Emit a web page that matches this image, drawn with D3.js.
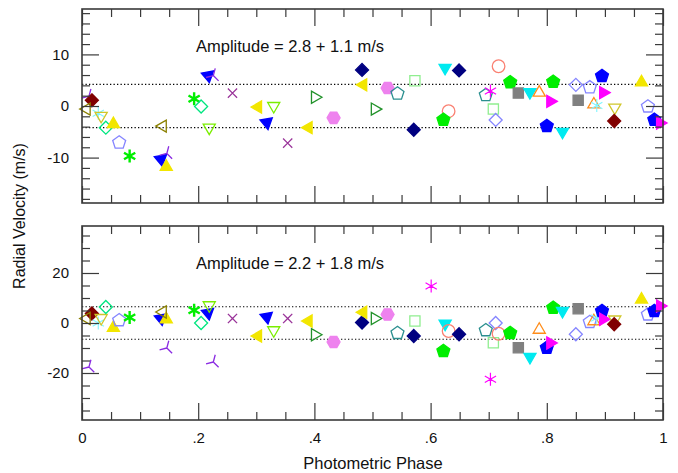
<!DOCTYPE html>
<html>
<head>
<meta charset="utf-8">
<script src="https://cdn.jsdelivr.net/npm/d3@7"></script>
<style>
  html, body { margin: 0; padding: 0; background: #fff; }
  svg { display: block; font-family: "Liberation Sans", Arial, Helvetica, sans-serif; }
</style>
</head>
<body>
<svg id="chart" width="678" height="473"></svg>
<script>
// Orbital phase of each observation
const phase = [
  0.012, 0.017, 0.008, 0.028, 0.033, 0.041, 0.054, 0.064, 0.082, 0.136,
  0.146, 0.145, 0.139, 0.193, 0.205, 0.217, 0.226, 0.219, 0.259, 0.303,
  0.318, 0.330, 0.354, 0.390, 0.401, 0.433, 0.482, 0.484, 0.504, 0.526,
  0.543, 0.571, 0.573, 0.601, 0.625, 0.631, 0.622, 0.649, 0.695, 0.703,
  0.708, 0.712, 0.717, 0.737, 0.751, 0.771, 0.787, 0.800, 0.806, 0.811,
  0.827, 0.850, 0.854, 0.874, 0.881, 0.886, 0.895, 0.897, 0.917, 0.916,
  0.963, 0.974, 0.985, 0.995
];

// Radial velocities (m/s), upper panel
const rvUpper = [
   1.9,  1.1, -0.6, -1.4, -1.9, -4.2, -3.5, -7.1, -9.7, -10.3,
  -9.2, -11.8, -3.9,  1.4, -0.1,  5.9,  5.9, -4.2,  2.5, -0.2,
  -3.2,  0.0, -7.2, -4.2,  1.7, -2.3,  7.0,  4.1, -0.6,  3.5,
   2.4, -4.6,  4.9, null,  7.4, -1.0, -2.7,  6.9,  2.1,  2.9,
  -0.6, -2.7,  7.7,  4.6,  2.5,  2.7,  2.6, -3.9,  0.9,  4.7,
  -5.0,  4.1,  1.1,  3.6,  0.3,  0.1,  5.8,  2.6, -0.3, -2.9,
   4.6, -0.1, -2.7, -3.3
];

// Radial velocities (m/s), lower panel
const rvLower = [
 -17.6,  3.8,  1.8,  0.0,  2.0,  6.4, -1.9,  1.1,  2.2,  1.8,
 -10.0,  1.5,  4.4,  5.1,  0.0,  4.0, -15.6,  7.1,  1.8, -5.2,
   2.4, -2.9,  1.8,  0.8, -4.7, -7.6,  0.2,  4.3,  1.8,  3.4,
  -4.0, -5.2,  0.8, 14.8, -0.3, -3.2, -11.2, -4.5, -2.9, -22.5,
  -7.9,  0.0, -4.3, -4.0, -9.9, -13.6, -2.7, -9.9, -8.0,  6.1,
   4.8, -4.5,  5.7,  0.4,  0.7,  2.0,  4.8,  1.5,  1.4, -0.5,
   9.4,  3.4,  4.8,  6.8
];

// Data set (symbol key) of each observation
const setKey = [
  "A","B","C","D","E","F","G","H","I","J",
  "A","G","C","I","F","J","A","K","L","M",
  "J","K","L","M","N","O","P","M","N","O",
  "Q","P","R","S","T","U","V","P","Q","S",
  "R","W","U","V","X","T","Y","AA","Z","V",
  "T","W","X","H","Y","D","AA","Z","E","B",
  "G","H","AA","Z"
];

// Panel annotations and the +/- scatter levels
const panelTitles = ["Amplitude = 2.8 + 1.1 m/s", "Amplitude = 2.2 + 1.8 m/s"];
const scatterLevel = [4.2, 6.5];

// Tick values and labels
const phaseTicks = [0, 0.2, 0.4, 0.6, 0.8, 1];
const phaseTickLabels = ["0", ".2", ".4", ".6", ".8", "1"];
const upperTicks = [-10, 0, 10];
const upperTickLabels = ["-10", "0", "10"];
const lowerTicks = [-20, 0, 20];
const lowerTickLabels = ["-20", "0", "20"];

// Marker look for each data set
const markerStyle = {
  A:  { shape: "tri",      color: "#8a2be2", fill: false },
  B:  { shape: "diamond",  color: "#800000", fill: true  },
  C:  { shape: "ltri",     color: "#8b8000", fill: false },
  D:  { shape: "star",     color: "#7ff5ff", fill: false, w: 1.1 },
  E:  { shape: "dtri",     color: "#d0c62a", fill: false },
  F:  { shape: "diamond",  color: "#00e680", fill: false },
  G:  { shape: "utri",     color: "#f2e600", fill: true  },
  H:  { shape: "pent",     color: "#8585ff", fill: false },
  I:  { shape: "star",     color: "#00ee00", fill: false, w: 2.4 },
  J:  { shape: "btri",     color: "#0000ff", fill: true  },
  K:  { shape: "dtri",     color: "#7aee00", fill: false },
  L:  { shape: "cross",    color: "#993399", fill: false },
  M:  { shape: "ltri",     color: "#f2e600", fill: true  },
  N:  { shape: "rtri",     color: "#22922b", fill: false },
  O:  { shape: "hex",      color: "#ee82ee", fill: true  },
  P:  { shape: "diamond",  color: "#000080", fill: true  },
  Q:  { shape: "pent",     color: "#2b8f8f", fill: false },
  R:  { shape: "square",   color: "#90ee90", fill: false },
  S:  { shape: "star",     color: "#ff00ff", fill: false, w: 1.2 },
  T:  { shape: "dtri",     color: "#00eaf0", fill: true  },
  U:  { shape: "circle",   color: "#fa8072", fill: false },
  V:  { shape: "pent",     color: "#00ee00", fill: true  },
  W:  { shape: "diamond",  color: "#8585ff", fill: false },
  X:  { shape: "square",   color: "#808080", fill: true  },
  Y:  { shape: "utri",     color: "#ff8c1a", fill: false },
  Z:  { shape: "rtri",     color: "#ff00ff", fill: true  },
  AA: { shape: "pent",     color: "#0000ff", fill: true  }
};

const svg = d3.select("#chart");
const frameColor = "#3a3a3a";

const x = d3.scaleLinear().domain([0, 1]).range([82, 663]);
const panels = [
  { y: d3.scaleLinear().domain([-18.8, 18.8]).range([203, 9]),
    values: rvUpper, ticks: upperTicks, labels: upperTickLabels,
    minorStep: 2, title: panelTitles[0], level: scatterLevel[0], showX: false },
  { y: d3.scaleLinear().domain([-38.8, 38.8]).range([420, 226]),
    values: rvLower, ticks: lowerTicks, labels: lowerTickLabels,
    minorStep: 5, title: panelTitles[1], level: scatterLevel[1], showX: true }
];

function polygon(n, r, startDeg) {
  const pts = d3.range(n).map(i => {
    const a = (startDeg + i * 360 / n) * Math.PI / 180;
    return [r * Math.cos(a), r * Math.sin(a)];
  });
  return "M" + pts.map(p => p[0].toFixed(2) + "," + p[1].toFixed(2)).join("L") + "Z";
}
function spokes(angles, r) {
  return angles.map(d => {
    const a = d * Math.PI / 180;
    return "M0,0L" + (r * Math.cos(a)).toFixed(2) + "," + (r * Math.sin(a)).toFixed(2);
  }).join("");
}
function markerPath(shape) {
  switch (shape) {
    case "utri":    return polygon(3, 7, -90);
    case "dtri":    return polygon(3, 7, 90);
    case "ltri":    return polygon(3, 7, 180);
    case "rtri":    return polygon(3, 7, 0);
    case "btri":    return polygon(3, 7.2, 80);
    case "diamond": return polygon(4, 6.5, -90);
    case "square":  return polygon(4, 7.2, -45);
    case "pent":    return polygon(5, 6.8, -90);
    case "hex":     return polygon(6, 6.5, 0);
    case "circle":  return d3.arc()({ innerRadius: 0, outerRadius: 6.3, startAngle: 0, endAngle: 2 * Math.PI });
    case "star":    return spokes([-90, -30, 30, 90, 150, 210], 6.5);
    case "cross":   return spokes([45, 135, 225, 315], 6.5);
    case "tri":     return spokes([-75, 45, 165], 7.5);
  }
}

panels.forEach(p => {
  const g = svg.append("g");
  const [y0, y1] = p.y.range();

  // scatter reference lines
  [p.level, -p.level].forEach(v => {
    g.append("line")
      .attr("x1", x(0)).attr("x2", x(1))
      .attr("y1", p.y(v)).attr("y2", p.y(v))
      .attr("stroke", "#000").attr("stroke-width", 1.1)
      .attr("stroke-dasharray", "1.3,2.2");
  });

  // observations
  const idx = d3.range(phase.length).filter(i => p.values[i] !== null);
  g.selectAll("path.obs").data(idx).join("path")
    .attr("class", "obs")
    .attr("transform", i => `translate(${x(phase[i])},${p.y(p.values[i])})`)
    .attr("d", i => markerPath(markerStyle[setKey[i]].shape))
    .attr("fill", i => markerStyle[setKey[i]].fill ? markerStyle[setKey[i]].color : "none")
    .attr("stroke", i => markerStyle[setKey[i]].color)
    .attr("stroke-width", i => markerStyle[setKey[i]].w || 1.3)
    .attr("stroke-linejoin", "miter");

  // minor and major ticks on all four sides
  const minorY = d3.range(-40, 41, p.minorStep).filter(v => v > p.y.domain()[0] && v < p.y.domain()[1] && !p.ticks.includes(v));
  const minorX = d3.range(0, 1.0001, 0.05).map(v => +v.toFixed(2)).filter(v => !phaseTicks.some(t => Math.abs(t - v) < 1e-6));

  const axes = [
    d3.axisLeft(p.y).tickValues(p.ticks).tickFormat((d, i) => p.labels[i]).tickSize(-17).tickPadding(13),
    d3.axisLeft(p.y).tickValues(minorY).tickFormat("").tickSize(-8),
  ];
  axes.forEach(a => g.append("g").attr("transform", `translate(${x(0)},0)`).call(a));

  g.append("g").attr("transform", `translate(${x(1)},0)`)
    .call(d3.axisRight(p.y).tickValues(p.ticks).tickFormat("").tickSize(-17));
  g.append("g").attr("transform", `translate(${x(1)},0)`)
    .call(d3.axisRight(p.y).tickValues(minorY).tickFormat("").tickSize(-8));

  g.append("g").attr("transform", `translate(0,${y1})`)
    .call(d3.axisTop(x).tickValues(phaseTicks).tickFormat("").tickSize(-17));
  g.append("g").attr("transform", `translate(0,${y1})`)
    .call(d3.axisTop(x).tickValues(minorX).tickFormat("").tickSize(-8));

  g.append("g").attr("transform", `translate(0,${y0})`)
    .call(d3.axisBottom(x).tickValues(phaseTicks)
      .tickFormat((d, i) => p.showX ? phaseTickLabels[i] : "")
      .tickSize(-17).tickPadding(12));
  g.append("g").attr("transform", `translate(0,${y0})`)
    .call(d3.axisBottom(x).tickValues(minorX).tickFormat("").tickSize(-8));

  g.selectAll(".domain").remove();
  g.selectAll(".tick line").attr("stroke", frameColor).attr("stroke-width", 1.2);
  g.selectAll(".tick text").attr("fill", "#111").style("font-size", "15px")
    .style("font-family", "'Liberation Sans', Arial, Helvetica, sans-serif");

  // frame
  g.append("rect")
    .attr("x", x(0)).attr("y", y1)
    .attr("width", x(1) - x(0)).attr("height", y0 - y1)
    .attr("fill", "none").attr("stroke", frameColor).attr("stroke-width", 1.6);

  // amplitude annotation
  g.append("text")
    .attr("x", 196).attr("y", y1 + 43)
    .attr("fill", "#111").style("font-size", "16.5px")
    .text(p.title);
});

// axis titles
svg.append("text")
  .attr("x", 373).attr("y", 469)
  .attr("text-anchor", "middle").attr("fill", "#111")
  .style("font-size", "16.5px")
  .text("Photometric Phase");

svg.append("text")
  .attr("transform", "translate(25,216) rotate(-90)")
  .attr("text-anchor", "middle").attr("fill", "#111")
  .style("font-size", "16px")
  .text("Radial Velocity (m/s)");
</script>
</body>
</html>
